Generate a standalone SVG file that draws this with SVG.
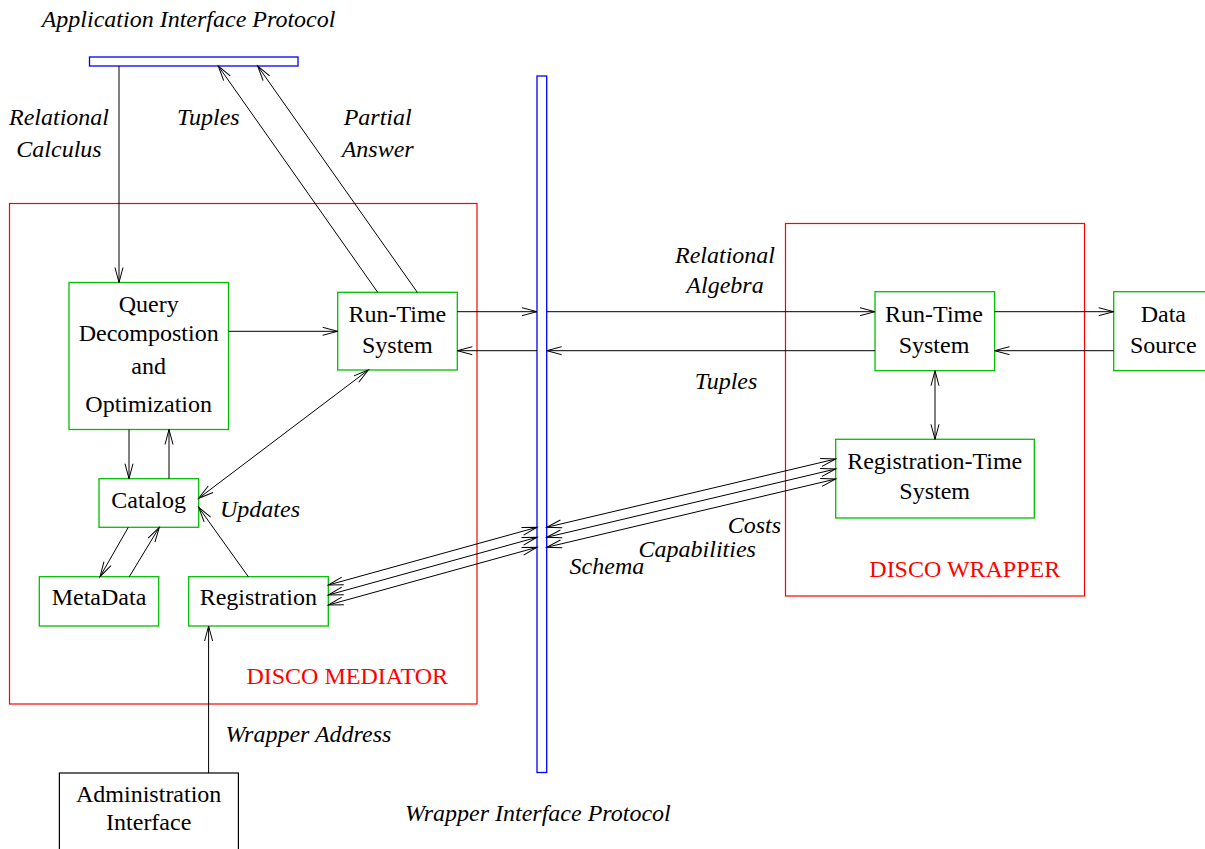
<svg xmlns="http://www.w3.org/2000/svg" width="1205" height="849" viewBox="0 0 1205 849">
<style>
.t{font-family:"Liberation Serif","Times New Roman",serif;font-size:24px;fill:#000}
.i{font-style:italic}
.c{text-anchor:middle}
.red{fill:#ff0000}
.node{fill:#fff;stroke:#00c000;stroke-width:1.3}
.cont{fill:none;stroke:#ff0000;stroke-width:1.2}
.bar{fill:#fff;stroke:#0000ff;stroke-width:1.3}
.ln{fill:none;stroke:#000;stroke-width:1}
</style>
<defs>
<marker id="ah" markerUnits="userSpaceOnUse" markerWidth="20" markerHeight="12" viewBox="-16 -6 18 12" refX="0" refY="0" orient="auto">
<path d="M-15,-4 L0,0 L-15,4" fill="none" stroke="#000" stroke-width="1"/>
</marker>
<marker id="as" markerUnits="userSpaceOnUse" markerWidth="20" markerHeight="12" viewBox="-2 -6 18 12" refX="0" refY="0" orient="auto">
<path d="M15,-4 L0,0 L15,4" fill="none" stroke="#000" stroke-width="1"/>
</marker>
</defs>
<rect width="1205" height="849" fill="#fff"/>

<g id="disco-mediator">
<rect class="cont" x="9.5" y="203.5" width="467.5" height="500.5"/>
<text class="t red" x="246.4" y="684">DISCO MEDIATOR</text>
</g>
<g id="disco-wrapper">
<rect class="cont" x="785.5" y="223.5" width="299" height="372.5"/>
<text class="t red" x="869.3" y="576.7">DISCO WRAPPER</text>
</g>

<g id="application-interface-protocol">
<rect class="bar" x="89.5" y="57" width="208.5" height="9"/>
<text class="t i" x="41.7" y="27">Application Interface Protocol</text>
</g>
<g id="wrapper-interface-protocol">
<rect class="bar" x="537" y="76" width="9.7" height="696.5"/>
<text class="t i" x="405" y="820.7">Wrapper Interface Protocol</text>
</g>

<g id="query-decomposition">
<rect class="node" x="69" y="282.5" width="159.5" height="147"/>
<text class="t c" x="148.7" y="311.7">Query</text>
<text class="t c" x="148.7" y="340.7">Decompostion</text>
<text class="t c" x="148.7" y="374">and</text>
<text class="t c" x="148.7" y="411.7">Optimization</text>
</g>
<g id="mediator-run-time">
<rect class="node" x="337.7" y="292.3" width="119.6" height="77.7"/>
<text class="t c" x="397.3" y="321.7">Run-Time</text>
<text class="t c" x="397.3" y="352.7">System</text>
</g>
<g id="catalog">
<rect class="node" x="99" y="478.7" width="99.7" height="48.6"/>
<text class="t c" x="148.7" y="508.3">Catalog</text>
</g>
<g id="metadata">
<rect class="node" x="39.3" y="576.7" width="119.4" height="49.3"/>
<text class="t c" x="99" y="605">MetaData</text>
</g>
<g id="registration">
<rect class="node" x="188.7" y="576.7" width="139.6" height="49.3"/>
<text class="t c" x="258.3" y="605">Registration</text>
</g>
<g id="administration-interface">
<rect x="59.4" y="773" width="179" height="90" fill="#fff" stroke="#000" stroke-width="1.2"/>
<text class="t c" x="148.7" y="801.7">Administration</text>
<text class="t c" x="148.7" y="830">Interface</text>
</g>
<g id="wrapper-run-time">
<rect class="node" x="875" y="291.7" width="119.6" height="79"/>
<text class="t c" x="934" y="321.7">Run-Time</text>
<text class="t c" x="934" y="352.7">System</text>
</g>
<g id="data-source">
<rect class="node" x="1113.7" y="291.7" width="100" height="79"/>
<text class="t c" x="1163.3" y="321.7">Data</text>
<text class="t c" x="1163.3" y="352.7">Source</text>
</g>
<g id="registration-time">
<rect class="node" x="835.7" y="439.3" width="198.6" height="78.7"/>
<text class="t c" x="934.7" y="469">Registration-Time</text>
<text class="t c" x="934.7" y="499.3">System</text>
</g>

<g id="connectors">
<line class="ln" x1="119" y1="66" x2="119" y2="282.5" marker-end="url(#ah)"/>
<line class="ln" x1="377.7" y1="292.3" x2="218.3" y2="66" marker-end="url(#ah)"/>
<line class="ln" x1="417.3" y1="292.3" x2="257.7" y2="66" marker-end="url(#ah)"/>
<line class="ln" x1="228.5" y1="331.3" x2="337.7" y2="331.3" marker-end="url(#ah)"/>
<line class="ln" x1="457.3" y1="311.7" x2="537" y2="311.7" marker-end="url(#ah)"/>
<line class="ln" x1="546.7" y1="311.7" x2="875" y2="311.7" marker-end="url(#ah)"/>
<line class="ln" x1="994.6" y1="311.7" x2="1113.7" y2="311.7" marker-end="url(#ah)"/>
<line class="ln" x1="1113.7" y1="350.7" x2="994.6" y2="350.7" marker-end="url(#ah)"/>
<line class="ln" x1="875" y1="350.7" x2="546.7" y2="350.7" marker-end="url(#ah)"/>
<line class="ln" x1="537" y1="350.7" x2="457.3" y2="350.7" marker-end="url(#ah)"/>
<line class="ln" x1="935" y1="370.7" x2="935" y2="439.3" marker-start="url(#as)" marker-end="url(#ah)"/>
<line class="ln" x1="129" y1="429.5" x2="129" y2="478.7" marker-end="url(#ah)"/>
<line class="ln" x1="169" y1="478.7" x2="169" y2="429.5" marker-end="url(#ah)"/>
<line class="ln" x1="368.3" y1="370" x2="198.7" y2="498.3" marker-start="url(#as)" marker-end="url(#ah)"/>
<line class="ln" x1="128.3" y1="527.3" x2="100" y2="576.7" marker-end="url(#ah)"/>
<line class="ln" x1="129.3" y1="576.7" x2="159.3" y2="527.3" marker-end="url(#ah)"/>
<line class="ln" x1="248.3" y1="576.7" x2="198.7" y2="507.3" marker-end="url(#ah)"/>
<line class="ln" x1="208.6" y1="773" x2="208.6" y2="626" marker-end="url(#ah)"/>
<line class="ln" x1="328.3" y1="585" x2="537" y2="527.3" marker-start="url(#as)" marker-end="url(#ah)"/>
<line class="ln" x1="328.3" y1="595" x2="537" y2="537.3" marker-start="url(#as)" marker-end="url(#ah)"/>
<line class="ln" x1="328.3" y1="605" x2="537" y2="547.3" marker-start="url(#as)" marker-end="url(#ah)"/>
<line class="ln" x1="546.7" y1="527.3" x2="835.7" y2="459" marker-start="url(#as)" marker-end="url(#ah)"/>
<line class="ln" x1="546.7" y1="537.3" x2="835.7" y2="469" marker-start="url(#as)" marker-end="url(#ah)"/>
<line class="ln" x1="546.7" y1="547.3" x2="835.7" y2="479" marker-start="url(#as)" marker-end="url(#ah)"/>
</g>

<g id="labels">
<text class="t i c" x="59" y="125">Relational</text>
<text class="t i c" x="59" y="156.7">Calculus</text>
<text class="t i c" x="208.3" y="125">Tuples</text>
<text class="t i c" x="377.7" y="125">Partial</text>
<text class="t i c" x="377.7" y="156.7">Answer</text>
<text class="t i" x="220" y="517.3">Updates</text>
<text class="t i" x="225.4" y="741.7">Wrapper Address</text>
<text class="t i c" x="725" y="262.7">Relational</text>
<text class="t i c" x="725" y="292.7">Algebra</text>
<text class="t i c" x="726" y="389">Tuples</text>
<text class="t i" x="781" y="533.3" text-anchor="end">Costs</text>
<text class="t i" x="638.6" y="557.3">Capabilities</text>
<text class="t i" x="569.6" y="574">Schema</text>
</g>
</svg>
